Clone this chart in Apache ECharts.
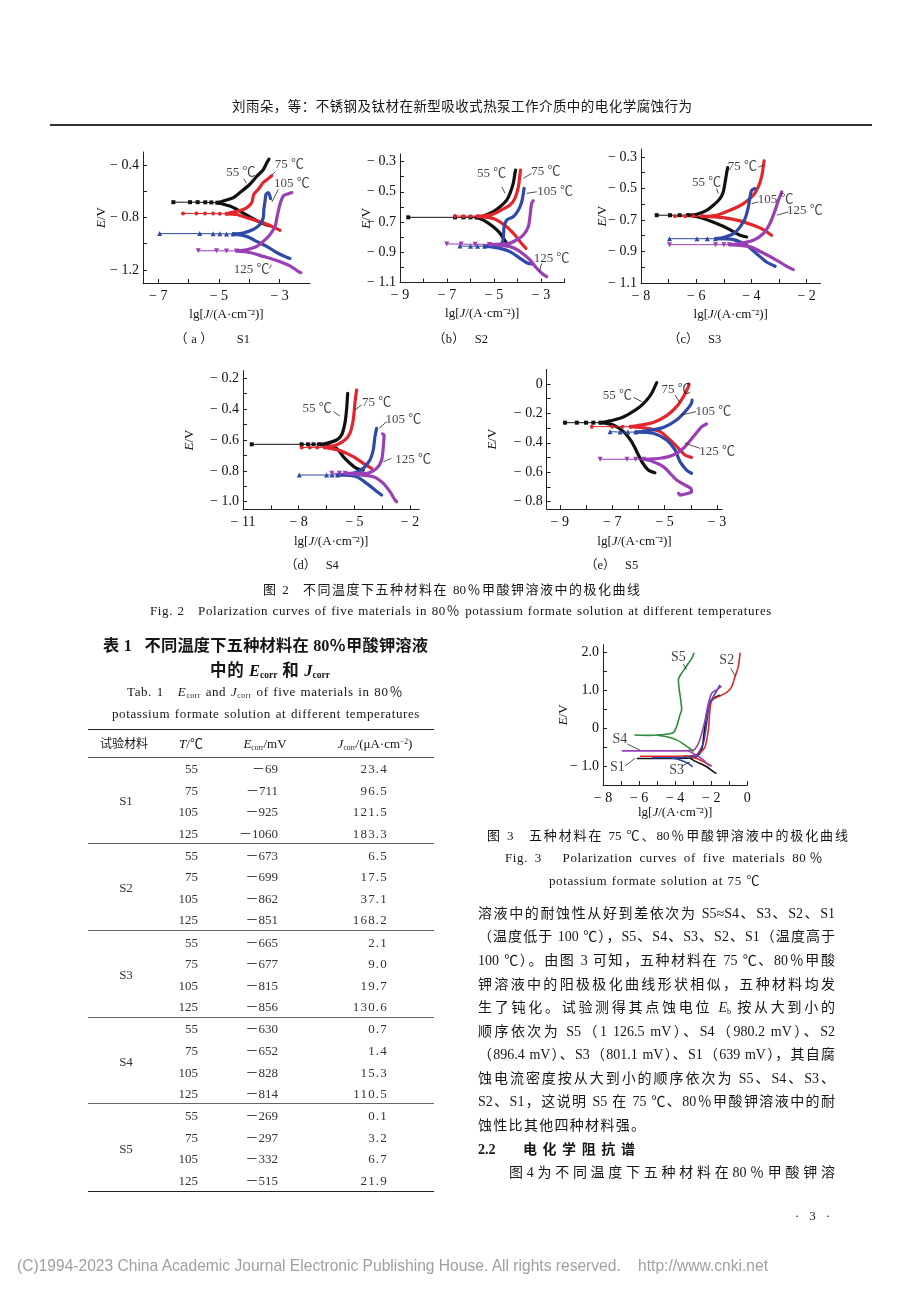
<!DOCTYPE html>
<html lang="zh-CN"><head><meta charset="utf-8"><title>极化曲线</title>
<script src="https://cdn.jsdelivr.net/npm/echarts@6.0.0/dist/echarts.min.js"></script>
<style>
html,body{margin:0;padding:0;background:#fff}
#page{position:relative;width:920px;height:1302px;overflow:hidden;font-family:"Liberation Serif","Noto Sans CJK SC",serif;color:#161616}
#chart{position:absolute;left:0;top:0;width:920px;height:1302px;z-index:1}
#text{position:absolute;left:0;top:0;width:920px;height:1302px;z-index:2;pointer-events:none}
.t{position:absolute;box-sizing:border-box;white-space:nowrap;overflow:visible}
.j{text-align:justify;text-align-last:justify;white-space:normal}
.c{text-align:center}
.r{text-align:right}
.l{text-align:left}
.b{font-weight:bold}
.en{letter-spacing:0.6px}
sub{font-size:58%;vertical-align:-0.25em;line-height:0;font-style:normal}
sup{font-size:58%;vertical-align:0.55em;line-height:0}
.rule{position:absolute;background:#222}
</style></head>
<body><div id="page"><div id="chart"></div><div id="text"></div></div>
<script>
// ---------------- DATA ----------------
const TEMPS = [55, 75, 105, 125];
// Fig.2 (a) S1
const S1_XTICKS = [-7,-6,-5,-4,-3], S1_XLABELS = [-7,-5,-3];
const S1_YTICKS = [-1.2,-1.0,-0.8,-0.6,-0.4], S1_YLABELS = [-1.2,-0.8,-0.4];
const S1_55 = {flat:[[-6.5,-0.683],[-5.95,-0.683],[-5.7,-0.683],[-5.45,-0.684],[-5.25,-0.685],[-5.05,-0.687]],
  up:[[-5.05,-0.687],[-4.86,-0.674],[-4.53,-0.649],[-4.31,-0.61],[-3.98,-0.546],[-3.76,-0.487],[-3.54,-0.436],[-3.43,-0.385],[-3.35,-0.354]],
  down:[[-5.05,-0.687],[-4.64,-0.713],[-4.31,-0.751],[-3.98,-0.795],[-3.65,-0.836],[-3.37,-0.862]]};
const S1_75 = {flat:[[-6.18,-0.769],[-5.74,-0.769],[-5.46,-0.77],[-5.19,-0.77],[-4.97,-0.771],[-4.75,-0.772]],
  up:[[-4.75,-0.772],[-4.64,-0.764],[-4.36,-0.751],[-4.09,-0.726],[-3.92,-0.687],[-3.85,-0.623],[-3.7,-0.585],[-3.54,-0.533],[-3.37,-0.503],[-3.26,-0.482]],
  down:[[-4.75,-0.772],[-4.42,-0.777],[-3.98,-0.81],[-3.54,-0.841],[-3.21,-0.872],[-2.99,-0.897]]};
const S1_105 = {flat:[[-6.95,-0.923],[-5.63,-0.923],[-5.19,-0.924],[-4.97,-0.924],[-4.75,-0.925],[-4.53,-0.925]],
  up:[[-4.53,-0.925],[-4.2,-0.918],[-3.87,-0.892],[-3.65,-0.854],[-3.54,-0.803],[-3.52,-0.738],[-3.48,-0.674],[-3.45,-0.623],[-3.37,-0.61],[-3.3,-0.656]],
  down:[[-4.53,-0.925],[-4.09,-0.944],[-3.76,-0.982],[-3.43,-1.02],[-3.1,-1.067],[-2.77,-1.103],[-2.66,-1.113]]};
const S1_125 = {flat:[[-5.68,-1.054],[-5.08,-1.054],[-4.75,-1.055],[-4.42,-1.055]],
  up:[[-4.42,-1.055],[-4.09,-1.046],[-3.76,-1.021],[-3.54,-0.982],[-3.32,-0.931],[-3.15,-0.867],[-3.08,-0.79],[-2.99,-0.7],[-2.88,-0.636],[-2.71,-0.618],[-2.6,-0.61]],
  down:[[-4.42,-1.055],[-3.98,-1.067],[-3.54,-1.097],[-3.1,-1.128],[-2.66,-1.169],[-2.38,-1.213],[-2.3,-1.221]]};
const S1_NOTES = [
  {t:'55 ℃', at:[-4.28,-0.455], lead:[[-4.18,-0.505],[-4.09,-0.54]]},
  {t:'75 ℃', at:[-2.68,-0.399], lead:[[-3.15,-0.451],[-3.26,-0.477]]},
  {t:'105 ℃', at:[-2.6,-0.539], lead:[[-3.04,-0.585],[-3.26,-0.682]]},
  {t:'125 ℃', at:[-3.92,-1.2], lead:[[-3.34,-1.19],[-3.27,-1.16]]}];
// Fig.2 (b) S2
const S2_XTICKS = [-9,-8,-7,-6,-5,-4,-3,-2], S2_XLABELS = [-9,-7,-5,-3];
const S2_YTICKS = [-1.1,-1.0,-0.9,-0.8,-0.7,-0.6,-0.5,-0.4,-0.3], S2_YLABELS = [-1.1,-0.9,-0.7,-0.5,-0.3];
const S2_55 = {flat:[[-8.65,-0.669],[-6.66,-0.669],[-6.3,-0.669],[-6.0,-0.669],[-5.74,-0.67]],
  up:[[-5.74,-0.67],[-5.45,-0.66],[-5.03,-0.632],[-4.74,-0.599],[-4.46,-0.555],[-4.32,-0.51],[-4.18,-0.444],[-4.11,-0.378],[-4.08,-0.356]],
  down:[[-5.74,-0.67],[-5.45,-0.687],[-5.03,-0.731],[-4.74,-0.775],[-4.57,-0.815],[-4.46,-0.841]]};
const S2_75 = {flat:[[-6.66,-0.66],[-6.3,-0.661],[-6.0,-0.661],[-5.7,-0.662]],
  up:[[-5.7,-0.662],[-5.17,-0.654],[-4.74,-0.625],[-4.32,-0.588],[-4.11,-0.543],[-3.96,-0.466],[-3.89,-0.378],[-3.87,-0.356]],
  down:[[-5.7,-0.662],[-5.03,-0.676],[-4.46,-0.731],[-4.11,-0.786],[-3.89,-0.83],[-3.64,-0.874]]};
const S2_105 = {flat:[[-6.45,-0.859],[-6.0,-0.86],[-5.7,-0.86],[-5.4,-0.86]],
  up:[[-5.4,-0.86],[-5.03,-0.859],[-4.67,-0.841],[-4.6,-0.797],[-4.57,-0.731],[-4.46,-0.687],[-4.18,-0.665],[-3.96,-0.621],[-3.82,-0.566],[-3.75,-0.51],[-3.72,-0.477]],
  down:[[-5.4,-0.86],[-4.74,-0.874],[-4.32,-0.896],[-3.89,-0.94],[-3.61,-0.969],[-3.4,-0.978]]};
const S2_125 = {flat:[[-7.01,-0.845],[-6.4,-0.846],[-5.8,-0.847],[-5.2,-0.848]],
  up:[[-5.2,-0.848],[-4.46,-0.845],[-4.04,-0.819],[-3.75,-0.786],[-3.54,-0.731],[-3.47,-0.665],[-3.4,-0.577],[-3.33,-0.559]],
  down:[[-5.2,-0.848],[-4.32,-0.863],[-3.89,-0.896],[-3.47,-0.951],[-3.18,-1.006],[-2.97,-1.039],[-2.76,-1.061]]};
const S2_NOTES = [
  {t:'55 ℃', at:[-5.1,-0.378], lead:[[-4.67,-0.466],[-4.53,-0.51]]},
  {t:'75 ℃', at:[-2.79,-0.367], lead:[[-3.4,-0.378],[-3.75,-0.411]]},
  {t:'105 ℃', at:[-2.4,-0.5], lead:[[-3.18,-0.5],[-3.61,-0.51]]},
  {t:'125 ℃', at:[-2.55,-0.94], lead:[[-2.97,-0.973],[-3.07,-1.028]]}];
// Fig.2 (c) S3
const S3_XTICKS = [-8,-7,-6,-5,-4,-3,-2], S3_XLABELS = [-8,-6,-4,-2];
const S3_YTICKS = [-1.1,-1.0,-0.9,-0.8,-0.7,-0.6,-0.5,-0.4,-0.3], S3_YLABELS = [-1.1,-0.9,-0.7,-0.5,-0.3];
const S3_55 = {flat:[[-7.43,-0.67],[-6.95,-0.67],[-6.6,-0.67],[-6.3,-0.67]],
  up:[[-6.3,-0.67],[-5.98,-0.664],[-5.62,-0.639],[-5.38,-0.607],[-5.14,-0.565],[-5.02,-0.522],[-4.96,-0.469],[-4.9,-0.406],[-4.86,-0.368]],
  down:[[-6.3,-0.67],[-5.86,-0.685],[-5.26,-0.723],[-4.78,-0.761],[-4.41,-0.797],[-4.17,-0.808]]};
const S3_75 = {flat:[[-6.77,-0.677],[-6.4,-0.677],[-6.1,-0.677],[-5.8,-0.677]],
  up:[[-5.8,-0.677],[-5.26,-0.67],[-4.78,-0.639],[-4.29,-0.596],[-3.93,-0.543],[-3.75,-0.49],[-3.63,-0.427],[-3.57,-0.363],[-3.54,-0.325]],
  down:[[-5.8,-0.677],[-5.02,-0.685],[-4.41,-0.706],[-3.93,-0.734],[-3.57,-0.761],[-3.27,-0.797]]};
const S3_105 = {flat:[[-6.97,-0.819],[-5.97,-0.819],[-5.6,-0.819],[-5.3,-0.819]],
  up:[[-5.3,-0.819],[-5.02,-0.812],[-4.65,-0.787],[-4.41,-0.744],[-4.23,-0.692],[-4.11,-0.617],[-4.05,-0.554],[-3.99,-0.512],[-3.87,-0.501]],
  down:[[-5.3,-0.819],[-4.65,-0.825],[-4.17,-0.861],[-3.81,-0.914],[-3.45,-0.967],[-3.14,-0.994]]};
const S3_125 = {flat:[[-6.97,-0.857],[-5.3,-0.857],[-5.0,-0.857],[-4.8,-0.857]],
  up:[[-4.8,-0.857],[-4.41,-0.85],[-3.93,-0.829],[-3.57,-0.787],[-3.33,-0.723],[-3.14,-0.639],[-3.02,-0.575],[-2.9,-0.522]],
  down:[[-4.8,-0.857],[-4.05,-0.871],[-3.57,-0.91],[-3.08,-0.956],[-2.72,-0.994],[-2.48,-1.015]]};
const S3_NOTES = [
  {t:'55 ℃', at:[-5.62,-0.465], lead:[[-5.26,-0.5],[-5.2,-0.533]]},
  {t:'75 ℃', at:[-4.33,-0.363], lead:[[-3.75,-0.365],[-3.57,-0.355]]},
  {t:'105 ℃', at:[-3.12,-0.571], lead:[[-3.75,-0.586],[-3.99,-0.596]]},
  {t:'125 ℃', at:[-2.06,-0.639], lead:[[-2.66,-0.649],[-3.08,-0.67]]}];
// Fig.2 (d) S4
const S4_XTICKS = [-11,-9.5,-8,-6.5,-5,-3.5,-2], S4_XLABELS = [-11,-8,-5,-2];
const S4_YTICKS = [-1.0,-0.9,-0.8,-0.7,-0.6,-0.5,-0.4,-0.3,-0.2], S4_YLABELS = [-1.0,-0.8,-0.6,-0.4,-0.2];
const S4_55 = {flat:[[-10.53,-0.628],[-7.84,-0.628],[-7.5,-0.628],[-7.2,-0.628],[-6.9,-0.628]],
  up:[[-6.9,-0.628],[-6.49,-0.622],[-5.96,-0.6],[-5.69,-0.568],[-5.51,-0.492],[-5.42,-0.405],[-5.36,-0.297]],
  down:[[-6.9,-0.628],[-5.96,-0.654],[-5.6,-0.708],[-5.24,-0.751],[-4.88,-0.784],[-4.52,-0.795]]};
const S4_75 = {flat:[[-7.84,-0.648],[-7.4,-0.648],[-7.0,-0.648],[-6.6,-0.648]],
  up:[[-6.6,-0.648],[-5.96,-0.632],[-5.51,-0.6],[-5.24,-0.557],[-5.06,-0.47],[-4.97,-0.362],[-4.88,-0.276]],
  down:[[-6.6,-0.648],[-5.78,-0.669],[-5.06,-0.708],[-4.52,-0.751],[-4.07,-0.784]]};
const S4_105 = {flat:[[-7.97,-0.827],[-6.5,-0.827],[-6.2,-0.827],[-5.9,-0.827]],
  up:[[-5.9,-0.827],[-5.06,-0.816],[-4.52,-0.784],[-4.16,-0.73],[-3.98,-0.665],[-3.89,-0.578],[-3.8,-0.524]],
  down:[[-5.9,-0.827],[-4.88,-0.838],[-4.34,-0.881],[-3.89,-0.924],[-3.53,-0.957]]};
const S4_125 = {flat:[[-6.22,-0.816],[-5.8,-0.816],[-5.5,-0.816]],
  up:[[-5.5,-0.816],[-4.34,-0.816],[-3.8,-0.784],[-3.53,-0.73],[-3.44,-0.643],[-3.4,-0.568],[-3.48,-0.56]],
  down:[[-5.5,-0.816],[-3.98,-0.838],[-3.44,-0.881],[-3.08,-0.935],[-2.81,-0.989],[-2.72,-1.0]]};
const S4_NOTES = [
  {t:'55 ℃', at:[-7.0,-0.395], lead:[[-6.13,-0.416],[-5.78,-0.444]]},
  {t:'75 ℃', at:[-3.8,-0.358], lead:[[-4.61,-0.373],[-4.97,-0.405]]},
  {t:'105 ℃', at:[-2.36,-0.47], lead:[[-3.26,-0.481],[-3.66,-0.524]]},
  {t:'125 ℃', at:[-1.83,-0.73], lead:[[-3.0,-0.719],[-3.44,-0.741]]}];
// Fig.2 (e) S5
const S5_XTICKS = [-9,-8,-7,-6,-5,-4,-3], S5_XLABELS = [-9,-7,-5,-3];
const S5_YTICKS = [-0.8,-0.7,-0.6,-0.5,-0.4,-0.3,-0.2,-0.1,0], S5_YLABELS = [-0.8,-0.6,-0.4,-0.2,0];
const S5_55 = {flat:[[-8.8,-0.263],[-8.35,-0.263],[-8.0,-0.263],[-7.72,-0.263],[-7.45,-0.263]],
  up:[[-7.45,-0.263],[-7.21,-0.256],[-6.7,-0.233],[-6.32,-0.199],[-5.94,-0.154],[-5.68,-0.109],[-5.49,-0.063],[-5.37,-0.018],[-5.3,0.009]],
  down:[[-7.45,-0.263],[-6.96,-0.279],[-6.57,-0.324],[-6.26,-0.392],[-6.06,-0.46],[-5.87,-0.528],[-5.62,-0.585],[-5.37,-0.603]]};
const S5_75 = {flat:[[-7.78,-0.29],[-7.0,-0.29],[-6.6,-0.29],[-6.3,-0.29]],
  up:[[-6.3,-0.29],[-6.06,-0.284],[-5.43,-0.262],[-4.92,-0.215],[-4.54,-0.154],[-4.28,-0.086],[-4.09,-0.018],[-4.07,0.0]],
  down:[[-6.3,-0.29],[-5.68,-0.301],[-5.17,-0.324],[-4.79,-0.381],[-4.47,-0.437],[-4.22,-0.483],[-3.97,-0.499]]};
const S5_105 = {flat:[[-7.08,-0.324],[-6.7,-0.327],[-6.4,-0.327],[-6.1,-0.327]],
  up:[[-6.1,-0.327],[-5.68,-0.318],[-5.05,-0.295],[-4.54,-0.245],[-4.16,-0.177],[-3.97,-0.131],[-3.95,-0.109]],
  down:[[-6.1,-0.327],[-5.43,-0.335],[-4.92,-0.381],[-4.6,-0.449],[-4.41,-0.528],[-4.16,-0.585],[-3.97,-0.607]]};
const S5_125 = {flat:[[-7.46,-0.512],[-6.44,-0.512],[-6.1,-0.512],[-5.8,-0.512]],
  up:[[-5.8,-0.512],[-5.17,-0.505],[-4.67,-0.483],[-4.28,-0.437],[-3.9,-0.358],[-3.58,-0.29],[-3.4,-0.272]],
  down:[[-5.8,-0.512],[-5.43,-0.528],[-5.05,-0.562],[-4.79,-0.607],[-4.54,-0.653],[-4.22,-0.687],[-4.0,-0.709],[-3.97,-0.732],[-4.09,-0.743],[-4.41,-0.755],[-4.47,-0.743]]};
const S5_NOTES = [
  {t:'55 ℃', at:[-6.8,-0.079], lead:[[-6.19,-0.091],[-5.87,-0.12]]},
  {t:'75 ℃', at:[-4.56,-0.036], lead:[[-4.6,-0.075],[-4.41,-0.127]]},
  {t:'105 ℃', at:[-3.14,-0.188], lead:[[-3.8,-0.188],[-4.35,-0.211]]},
  {t:'125 ℃', at:[-2.99,-0.46], lead:[[-3.65,-0.437],[-4.22,-0.403]]}];
// Fig.3 (75 ℃, five materials)
const F3_XTICKS = [-8,-7,-6,-5,-4,-3,-2,-1,0], F3_XLABELS = [-8,-6,-4,-2,0];
const F3_YTICKS = [-1.5,-1.0,-0.5,0,0.5,1.0,1.5,2.0], F3_YLABELS = [-1.0,0,1.0,2.0];
const F3_S1 = {up:[[-6.13,-0.8],[-5.2,-0.8],[-4.0,-0.8],[-3.2,-0.79],[-2.81,-0.75],[-2.53,-0.58],[-2.4,-0.14],[-2.25,0.39],[-2.07,0.65],[-1.79,0.81],[-1.51,0.87]],
  down:[[-3.2,-0.79],[-2.81,-0.89],[-2.25,-1.02],[-1.79,-1.18],[-1.7,-1.19]]};
const F3_S2 = {up:[[-5.95,-0.74],[-4.5,-0.74],[-3.5,-0.735],[-2.99,-0.72],[-2.62,-0.65],[-2.34,-0.49],[-2.16,-0.05],[-2.07,0.48],[-1.97,0.74],[-1.6,0.83],[-1.14,0.94],[-0.87,1.09],[-0.68,1.36],[-0.5,1.62],[-0.4,1.99]],
  down:[[-3.5,-0.735],[-2.81,-0.8],[-2.25,-0.93],[-1.97,-1.0]]};
const F3_S3 = {up:[[-5.3,-0.78],[-4.0,-0.78],[-3.3,-0.76],[-2.81,-0.71],[-2.44,-0.4],[-2.25,0.13],[-2.1,0.65],[-1.88,0.83],[-1.51,1.14]],
  down:[[-4.2,-0.78],[-3.73,-0.84],[-3.27,-0.93],[-3.03,-1.02]]};
const F3_S4 = {up:[[-6.96,-0.6],[-5.0,-0.6],[-3.73,-0.6],[-2.99,-0.58],[-2.71,-0.4],[-2.53,-0.14],[-2.34,0.21],[-2.16,0.65],[-1.97,0.92],[-1.7,1.01],[-1.42,1.11]],
  down:[[-3.3,-0.6],[-2.99,-0.67],[-2.44,-0.84],[-2.16,-0.97],[-2.03,-1.0]]};
const F3_S5 = {up:[[-6.26,-0.18],[-5.39,-0.19],[-4.47,-0.16],[-4.1,-0.12],[-3.92,0.04],[-3.73,0.35],[-3.64,0.48],[-3.69,0.74],[-3.77,1.0],[-3.82,1.27],[-3.64,1.45],[-3.45,1.58],[-3.27,1.71],[-3.08,1.84],[-2.95,1.99]],
  down:[[-5.0,-0.19],[-4.47,-0.23],[-3.92,-0.31],[-3.45,-0.45],[-3.08,-0.58],[-2.99,-0.62]]};
const F3_NOTES = [
  {t:'S5', at:[-3.82,1.87], lead:[[-3.55,1.69],[-3.36,1.55]]},
  {t:'S2', at:[-1.14,1.8], lead:[[-0.92,1.58],[-0.68,1.38]]},
  {t:'S4', at:[-7.06,-0.3], lead:[[-6.65,-0.42],[-5.95,-0.58]]},
  {t:'S1', at:[-7.2,-1.04], lead:[[-6.78,-1.0],[-6.23,-0.8]]},
  {t:'S3', at:[-3.92,-1.1], lead:[[-3.64,-1.0],[-3.18,-0.89]]}];
// Table 1
const MATERIALS = ['S1','S2','S3','S4','S5'];
const T_VALUES = ['55','75','105','125'];
const E_CORR = [[-69,-711,-925,-1060],[-673,-699,-862,-851],[-665,-677,-815,-856],[-630,-652,-828,-814],[-269,-297,-332,-515]];
const J_CORR = [['23.4','96.5','121.5','183.3'],['6.5','17.5','37.1','168.2'],['2.1','9.0','19.7','130.6'],['0.7','1.4','15.3','110.5'],['0.1','3.2','6.7','21.9']];

// ---------------- LAYOUT / STYLE ----------------
const LAYOUT = [
  {grid:{left:143,top:152,width:167,height:131}, xr:[-7.5,-2], yr:[-1.3,-0.3], yGap:35, xGap:25},
  {grid:{left:400,top:154,width:164.5,height:128.5}, xr:[-9,-2], yr:[-1.1,-0.25], yGap:27, xGap:25},
  {grid:{left:641,top:149,width:179.4,height:134}, xr:[-8,-1.5], yr:[-1.1,-0.25], yGap:32, xGap:25},
  {grid:{left:243,top:370.6,width:176.3,height:138.8}, xr:[-11,-1.5], yr:[-1.05,-0.15], yGap:47, xGap:26},
  {grid:{left:546.7,top:369.3,width:175.5,height:139.7}, xr:[-9.5,-2.8], yr:[-0.85,0.1], yGap:48, xGap:26},
  {grid:{left:603,top:644.7,width:144.3,height:140.3}, xr:[-8,0], yr:[-1.5,2.2], yGap:33, xGap:21}
];
const PANELS = [
  {xt:S1_XTICKS,xl:S1_XLABELS,yt:S1_YTICKS,yl:S1_YLABELS,curves:[S1_55,S1_75,S1_105,S1_125],notes:S1_NOTES},
  {xt:S2_XTICKS,xl:S2_XLABELS,yt:S2_YTICKS,yl:S2_YLABELS,curves:[S2_55,S2_75,S2_105,S2_125],notes:S2_NOTES},
  {xt:S3_XTICKS,xl:S3_XLABELS,yt:S3_YTICKS,yl:S3_YLABELS,curves:[S3_55,S3_75,S3_105,S3_125],notes:S3_NOTES},
  {xt:S4_XTICKS,xl:S4_XLABELS,yt:S4_YTICKS,yl:S4_YLABELS,curves:[S4_55,S4_75,S4_105,S4_125],notes:S4_NOTES},
  {xt:S5_XTICKS,xl:S5_XLABELS,yt:S5_YTICKS,yl:S5_YLABELS,curves:[S5_55,S5_75,S5_105,S5_125],notes:S5_NOTES},
  {xt:F3_XTICKS,xl:F3_XLABELS,yt:F3_YTICKS,yl:F3_YLABELS,curves:[F3_S1,F3_S2,F3_S3,F3_S4,F3_S5],notes:F3_NOTES,fig3:true}
];
const TEMP_COLORS = ['#111111','#e3262b','#2f49a8','#9b40b4'];
const TEMP_SYMBOLS = ['rect','circle','triangle','path://M0,0L10,0L5,9Z'];
const MAT_COLORS = ['#111111','#e3262b','#2f49a8','#9b40b4','#2f8c3c'];
const SERIF = 'Liberation Serif, Noto Sans CJK SC, serif';

const fmtY = v => { const a = Math.abs(v); const s = a < 1e-9 ? '0' : a.toFixed(1); return v < -1e-9 ? '− ' + s : s; };
const fmtX = v => { const a = Math.round(Math.abs(v)); return v < -1e-9 ? '− ' + a : String(a); };

const grids = [], xAxes = [], yAxes = [], series = [];
PANELS.forEach((p, i) => {
  const L = LAYOUT[i];
  grids.push(Object.assign({containLabel:false, outerBoundsMode:'none'}, L.grid));
  const axisCommon = {
    type:'value', gridIndex:i, splitLine:{show:false},
    axisLine:{show:true, onZero:false, lineStyle:{color:'#222', width:1}},
    nameLocation:'middle', nameMoveOverlap:false,
    nameTextStyle:{fontFamily:SERIF, fontSize:13, color:'#111', rich:{i:{fontStyle:'italic', fontFamily:SERIF, fontSize:13, color:'#111'}}}
  };
  xAxes.push(Object.assign({}, axisCommon, {
    min:L.xr[0], max:L.xr[1], name:'lg[{i|J}/(A·cm⁻²)]', nameGap:L.xGap,
    axisTick:{show:true, inside:true, length:4, customValues:p.xt, lineStyle:{color:'#222'}},
    axisLabel:{customValues:p.xl, formatter:fmtX, fontFamily:SERIF, fontSize:14, color:'#111', margin:6}
  }));
  yAxes.push(Object.assign({}, axisCommon, {
    min:L.yr[0], max:L.yr[1], name:'{i|E}/V', nameGap:L.yGap, nameRotate:90,
    axisTick:{show:true, inside:true, length:4, customValues:p.yt, lineStyle:{color:'#222'}},
    axisLabel:{customValues:p.yl, formatter:fmtY, fontFamily:SERIF, fontSize:14, color:'#111', margin:4}
  }));
  const base = {type:'line', xAxisIndex:i, yAxisIndex:i, silent:true, animation:false, clip:false, smooth:0.25};
  p.curves.forEach((c, k) => {
    if (p.fig3) {
      const col = MAT_COLORS[k];
      series.push(Object.assign({}, base, {data:c.up, symbol:'none', lineStyle:{color:col, width:1.6}, z:2+k}));
      series.push(Object.assign({}, base, {data:c.down, symbol:'none', lineStyle:{color:col, width:1.6}, z:2+k}));
    } else {
      const col = TEMP_COLORS[k];
      series.push(Object.assign({}, base, {data:c.flat, smooth:false, symbol:TEMP_SYMBOLS[k], symbolSize:k>=2?5:4, showSymbol:true,
        itemStyle:{color:col}, lineStyle:{color:col, width:1}, z:3}));
      series.push(Object.assign({}, base, {data:c.up, symbol:'none', lineStyle:{color:col, width:3.2, cap:'round', join:'round'}, z:2}));
      series.push(Object.assign({}, base, {data:c.down, symbol:'none', lineStyle:{color:col, width:3.2, cap:'round', join:'round'}, z:2}));
    }
  });
  p.notes.forEach(n => {
    series.push({type:'line', xAxisIndex:i, yAxisIndex:i, data:n.lead, symbol:'none', clip:false, silent:true, animation:false,
      lineStyle:{color:'#222', width:0.8}, z:6});
    series.push({type:'scatter', xAxisIndex:i, yAxisIndex:i, data:[n.at], symbolSize:1, clip:false, silent:true, animation:false,
      itemStyle:{color:'rgba(0,0,0,0)'},
      label:{show:true, position:'inside', formatter:n.t, fontFamily:SERIF, fontSize:p.fig3?14:13, color:'#111'}, z:7});
  });
});

const chart = echarts.init(document.getElementById('chart'), null, {renderer:'canvas', width:920, height:1302});
chart.setOption({animation:false, backgroundColor:'transparent', grid:grids, xAxis:xAxes, yAxis:yAxes, series:series});

// ---------------- TEXT ----------------
const layer = document.getElementById('text');
function put(html, x1, x2, yc, fs, mode, opt) {
  opt = opt || {};
  const d = document.createElement('div');
  d.className = 't ' + mode + (opt.cls ? ' ' + opt.cls : '');
  d.innerHTML = html;
  const lh = Math.round(fs * 1.35);
  d.style.left = x1 + 'px'; d.style.width = (x2 - x1) + 'px';
  d.style.top = (yc - lh / 2) + 'px'; d.style.height = lh + 'px'; d.style.lineHeight = lh + 'px';
  d.style.fontSize = fs + 'px';
  if (opt.style) Object.assign(d.style, opt.style);
  layer.appendChild(d);
  if (mode === 'j') { let f = fs; while (d.scrollHeight > lh + 2 && f > 6) { f -= 0.25; d.style.fontSize = f + 'px'; } }
  return d;
}
function rule(x1, x2, y, h, color) {
  const d = document.createElement('div'); d.className = 'rule';
  d.style.left = x1 + 'px'; d.style.width = (x2 - x1) + 'px'; d.style.top = (y - h / 2) + 'px'; d.style.height = h + 'px';
  if (color) d.style.background = color;
  layer.appendChild(d);
}
// header
put('刘雨朵，等：不锈钢及钛材在新型吸收式热泵工作介质中的电化学腐蚀行为', 232, 692, 107, 13.5, 'j');
rule(50, 872, 125, 2, '#333');
// sub captions
put('（a）&nbsp;&nbsp;&nbsp;S1', 175, 250, 339, 12.5, 'j');
put('（b）&nbsp;&nbsp;&nbsp;S2', 433, 488, 339, 12.5, 'j');
put('（c）&nbsp;&nbsp;&nbsp;S3', 668, 720, 339, 12.5, 'j');
put('（d）&nbsp;&nbsp;&nbsp;S4', 285, 335, 565, 12.5, 'j');
put('（e）&nbsp;&nbsp;&nbsp;S5', 585, 635, 565, 12.5, 'j');
put('图 2&nbsp;&nbsp;&nbsp;不同温度下五种材料在 80％甲酸钾溶液中的极化曲线', 263, 640, 590, 13, 'j');
put('Fig. 2&nbsp;&nbsp;&nbsp;Polarization curves of five materials in 80％ potassium formate solution at different temperatures', 150, 772, 611, 13, 'j', {cls:'en'});
// table title
put('表 1&nbsp;&nbsp;&nbsp;不同温度下五种材料在 80％甲酸钾溶液', 103, 428, 646, 16.5, 'j', {cls:'b'});
put('中的 <i>E</i><sub>corr</sub> 和 <i>J</i><sub>corr</sub>', 210, 330, 671, 16.5, 'j', {cls:'b'});
put('Tab. 1&nbsp;&nbsp;&nbsp;<i>E</i><sub>corr</sub> and <i>J</i><sub>corr</sub> of five materials in 80％', 127, 403, 692, 13, 'j', {cls:'en'});
put('potassium formate solution at different temperatures', 112, 420, 714, 13, 'j', {cls:'en'});
// table
rule(88, 434, 729.5, 1.6, '#222');
put('试验材料', 100, 148, 744, 13, 'j');
put('<i>T</i>/℃', 170, 212, 744, 13, 'c');
put('<i>E</i><sub>corr</sub>/mV', 230, 300, 744, 13, 'c');
put('<i>J</i><sub>corr</sub>/(μA·cm<sup>−2</sup>)', 318, 432, 744, 13, 'c');
rule(88, 434, 757.5, 1, '#555');
MATERIALS.forEach((m, g) => {
  const top = 769 + g * 86.8;
  put(m, 110, 142, top + 1.5 * 21.55, 13, 'c', {style:{color:'#333'}});
  T_VALUES.forEach((t, r) => {
    const y = top + r * 21.55;
    put(t, 160, 198, y, 13, 'r', {style:{color:'#333'}});
    const e = E_CORR[g][r];
    put((e < 0 ? '－' : '') + Math.abs(e), 220, 278, y, 13, 'r', {style:{color:'#333'}});
    put(J_CORR[g][r], 330, 388, y, 13, 'r', {style:{color:'#333', letterSpacing:'1.2px', marginRight:'-1.2px'}});
  });
  if (g < 4) rule(88, 434, 843.5 + g * 86.8, 1, '#666');
});
rule(88, 434, 1191.5, 1.6, '#222');
// fig 3 captions
put('图 3&nbsp;&nbsp;&nbsp;五种材料在 75 ℃、80％甲酸钾溶液中的极化曲线', 487, 848, 836, 13, 'j');
put('Fig. 3&nbsp;&nbsp;&nbsp;Polarization curves of five materials 80％', 505, 823, 858, 13, 'j', {cls:'en'});
put('potassium formate solution at 75 ℃', 549, 760, 881, 13, 'j', {cls:'en'});
// paragraph
const PARA = [
  '溶液中的耐蚀性从好到差依次为 S5≈S4、S3、S2、S1',
  '（温度低于 100 ℃），S5、S4、S3、S2、S1（温度高于',
  '100 ℃）。由图 3 可知，五种材料在 75 ℃、80％甲酸',
  '钾溶液中的阳极极化曲线形状相似，五种材料均发',
  '生了钝化。试验测得其点蚀电位 <i>E</i><sub>b</sub> 按从大到小的',
  '顺序依次为 S5（1 126.5 mV）、S4（980.2 mV）、S2',
  '（896.4 mV）、S3（801.1 mV）、S1（639 mV），其自腐',
  '蚀电流密度按从大到小的顺序依次为 S5、S4、S3、',
  'S2、S1，这说明 S5 在 75 ℃、80％甲酸钾溶液中的耐'
];
const LSTEP = 23.58;
PARA.forEach((s, k) => put(s, 478, 835, 913.3 + k * LSTEP, 14, 'j'));
put('蚀性比其他四种材料强。', 478, 660, 913.3 + 9 * LSTEP, 14, 'l', {style:{letterSpacing:'1.3px'}});
put('2.2&nbsp;&nbsp;&nbsp;电化学阻抗谱', 478, 635, 913.3 + 10 * LSTEP, 14, 'j', {cls:'b'});
put('图4为不同温度下五种材料在80％甲酸钾溶', 509, 835, 913.3 + 11 * LSTEP, 14, 'j');
// page number & footer
put('· 3 ·', 795, 830, 1216, 13, 'j');
put('<span id="fs">(C)1994-2023 China Academic Journal Electronic Publishing House. All rights reserved.&nbsp;&nbsp;&nbsp;&nbsp;http://www.cnki.net</span>', 17, 768, 1265, 17, 'l',
  {style:{color:'#a0a0a0', fontFamily:'"Liberation Sans Narrow","Liberation Sans",sans-serif'}});
const fs = document.getElementById('fs');
fs.style.display = 'inline-block'; fs.style.transformOrigin = '0 50%';
const w = fs.getBoundingClientRect().width;
if (w > 0) fs.style.transform = 'scaleX(' + (751 / w) + ')';
</script>
</body></html>
